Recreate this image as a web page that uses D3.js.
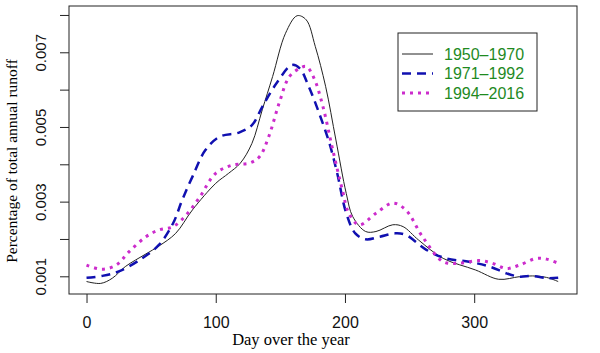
<!DOCTYPE html>
<html>
<head>
<meta charset="utf-8">
<script src="https://cdn.jsdelivr.net/npm/d3@7"></script>
<style>
  body { margin: 0; background: #fff; }
  svg { display: block; }
</style>
</head>
<body>
<svg width="600" height="353"></svg>
<script>
const svg = d3.select('svg');

// days, one list per period
const days1 = [0, 11, 20, 30, 46, 56, 69, 82, 100, 110, 119, 128, 136, 144, 154, 163, 170, 177, 185, 193, 201, 206, 216, 224, 237, 245, 257, 276, 301, 319, 335, 345, 356, 365];
const runoff1 = [0.00086, 0.00081, 0.00095, 0.00126, 0.0016, 0.00181, 0.00215, 0.00278, 0.00349, 0.00376, 0.00403, 0.00456, 0.00546, 0.00635, 0.00751, 0.00798, 0.00787, 0.00716, 0.00609, 0.00465, 0.00322, 0.0026, 0.0022, 0.0022, 0.00238, 0.00233, 0.00197, 0.00148, 0.00117, 0.00092, 0.00099, 0.00101, 0.00097, 0.00086];

const days2 = [0, 12, 25, 43, 56, 67, 74, 82, 92, 103, 118, 128, 136, 147, 159, 165, 172, 180, 188, 194, 201, 208, 216, 227, 239, 247, 263, 278, 296, 312, 325, 335, 345, 356, 365];
const runoff2 = [0.00096, 0.00101, 0.00113, 0.00148, 0.00184, 0.00242, 0.00304, 0.00367, 0.00438, 0.00474, 0.00485, 0.00505, 0.00554, 0.00617, 0.00666, 0.00657, 0.00608, 0.00537, 0.00456, 0.00376, 0.00269, 0.00215, 0.00199, 0.00206, 0.00215, 0.00211, 0.00171, 0.00148, 0.00139, 0.00126, 0.00108, 0.00099, 0.00101, 0.00095, 0.00096];

const days3 = [0, 12, 23, 33, 46, 56, 67, 77, 87, 100, 113, 126, 134, 141, 149, 157, 165, 170, 176, 183, 190, 198, 203, 211, 224, 237, 247, 260, 276, 288, 304, 314, 325, 335, 348, 356, 365];
const runoff3 = [0.0013, 0.00119, 0.0013, 0.00166, 0.00206, 0.00224, 0.00233, 0.00264, 0.00309, 0.00376, 0.00398, 0.00403, 0.00421, 0.00474, 0.00563, 0.00635, 0.00657, 0.00662, 0.00631, 0.00554, 0.00447, 0.00331, 0.00269, 0.00238, 0.00269, 0.00296, 0.00278, 0.00206, 0.00139, 0.00135, 0.00142, 0.00135, 0.00121, 0.0013, 0.00148, 0.00146, 0.00135];

const periods = ['1950\u20131970', '1971\u20131992', '1994\u20132016'];
const xTicks = [0, 100, 200, 300];
const yTicks = [0.001, 0.002, 0.003, 0.004, 0.005, 0.006, 0.007, 0.008];
const yLabelled = [0.001, 0.003, 0.005, 0.007];

const series = [
  { name: periods[0], days: days1, values: runoff1, color: '#222', width: 1, dash: null },
  { name: periods[1], days: days2, values: runoff2, color: '#1010b0', width: 2.5, dash: '9,6' },
  { name: periods[2], days: days3, values: runoff3, color: '#cc2ccc', width: 3, dash: '3,5' }
];

const margin = { top: 6, right: 23, bottom: 59, left: 69 };
const innerWidth = 600 - margin.left - margin.right;
const innerHeight = 353 - margin.top - margin.bottom;

const xScale = d3.scaleLinear()
  .domain([-13.56, 379.56])
  .range([0, innerWidth]);

const yScale = d3.scaleLinear()
  .domain([0.000526, 0.00824])
  .range([innerHeight, 0]);

const g = svg.append('g')
  .attr('transform', `translate(${margin.left},${margin.top})`);

//Axes, R style: ticks outside, no axis line
const xAxis = d3.axisBottom(xScale)
  .tickValues(xTicks)
  .tickSize(9)
  .tickPadding(14)
  .tickFormat(d3.format('d'));

const xAxisG = g.append('g')
  .attr('transform', `translate(0,${innerHeight})`)
  .call(xAxis);
xAxisG.select('.domain').remove();
xAxisG.selectAll('text').style('font-size', '16px');

const yAxis = d3.axisLeft(yScale)
  .tickValues(yTicks)
  .tickSize(9)
  .tickFormat(d => yLabelled.includes(d) ? d3.format('.3f')(d) : '');

const yAxisG = g.append('g').call(yAxis);
yAxisG.select('.domain').remove();
yAxisG.selectAll('text').filter(d => !yLabelled.includes(d)).remove();
yAxisG.selectAll('text')
  .attr('transform', 'rotate(-90)')
  .attr('x', 0)
  .attr('y', -28)
  .attr('dy', '0.35em')
  .style('text-anchor', 'middle')
  .style('font-size', '15px');

svg.selectAll('.tick text')
  .style('font-family', 'Arial, "Liberation Sans", sans-serif')
  .attr('fill', '#111');
svg.selectAll('.tick line').attr('stroke', '#222');

//Lines
const line = d3.line()
  .x(d => xScale(d[0]))
  .y(d => yScale(d[1]))
  .curve(d3.curveCatmullRom.alpha(0.5));

series.forEach(s => {
  g.append('path')
    .datum(d3.zip(s.days, s.values))
    .attr('fill', 'none')
    .attr('stroke', s.color)
    .attr('stroke-width', s.width)
    .attr('stroke-dasharray', s.dash)
    .attr('d', line);
});

//Box
g.append('rect')
  .attr('width', innerWidth)
  .attr('height', innerHeight)
  .attr('fill', 'none')
  .attr('stroke', '#222')
  .attr('stroke-width', 1);

//Axis titles
svg.append('text')
  .attr('x', 291)
  .attr('y', 345)
  .attr('text-anchor', 'middle')
  .style('font-family', '"Liberation Serif", "Times New Roman", serif')
  .style('font-size', '16.5px')
  .text('Day over the year');

svg.append('text')
  .attr('transform', `translate(17,161) rotate(-90)`)
  .attr('text-anchor', 'middle')
  .style('font-family', '"Liberation Serif", "Times New Roman", serif')
  .style('font-size', '15.5px')
  .text('Percentage of total annual runoff');

//Legend
const legend = svg.append('g').attr('transform', 'translate(398,33)');
legend.append('rect')
  .attr('width', 139)
  .attr('height', 78)
  .attr('fill', '#fff')
  .attr('stroke', '#222');

series.forEach((s, i) => {
  const y = 21 + i * 19.5;
  legend.append('line')
    .attr('x1', 4).attr('x2', 35)
    .attr('y1', y).attr('y2', y)
    .attr('stroke', s.color)
    .attr('stroke-width', s.width)
    .attr('stroke-dasharray', s.dash);
  legend.append('text')
    .attr('x', 46)
    .attr('y', y)
    .attr('dy', '0.35em')
    .attr('fill', '#1f8a1f')
    .style('font-family', 'Arial, "Liberation Sans", sans-serif')
    .style('font-size', '16px')
    .text(s.name);
});
</script>
</body>
</html>
